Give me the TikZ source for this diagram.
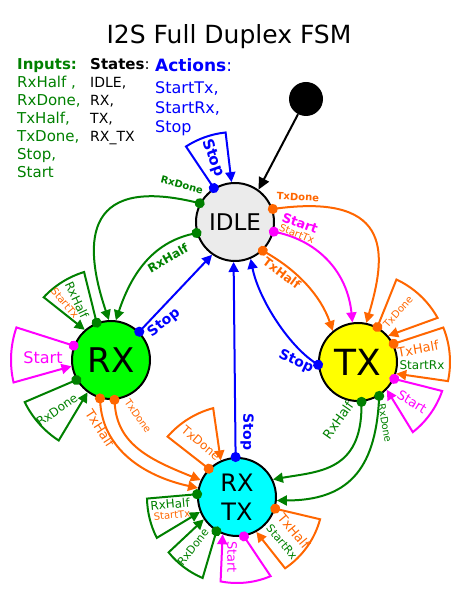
\documentclass[tikz,border=0pt]{standalone}
\usepackage{fontspec}
\setmainfont{DejaVu Sans}
\usetikzlibrary{arrows.meta}

\definecolor{ingreen}{RGB}{0,128,0}
\definecolor{txorange}{RGB}{255,102,0}
\definecolor{startpink}{RGB}{255,0,255}
\definecolor{stopblue}{RGB}{0,0,255}
\definecolor{idlegray}{RGB}{235,235,235}
\definecolor{rxgreen}{RGB}{0,255,0}
\definecolor{txyellow}{RGB}{255,255,0}
\definecolor{rxtxcyan}{RGB}{0,255,255}

\newcommand{\fsz}[1]{\fontsize{#1}{#1}\selectfont}

\tikzset{
  state/.style={circle, draw=black, line width=2pt, minimum size=78pt, inner sep=0pt},
  trans/.style={line width=2pt, {Circle[length=10pt]}-{Triangle[length=10pt,width=10pt]}, shorten <=-5pt},
  lbl/.style={inner sep=0pt},
}

\begin{document}
\begin{tikzpicture}[x=1pt,y=1pt]
\useasboundingbox (0,0) rectangle (473,598);
% title and legend
\node (title) at (229,561) {\fsz{25}I2S Full Duplex FSM};
\node[anchor=north west, align=left, inner sep=0pt, text=ingreen, font=\fontsize{15}{18}\selectfont] (inputs) at (17,540) {\textbf{Inputs:}\\RxHalf ,\\RxDone,\\TxHalf,\\TxDone,\\Stop,\\Start};
\node[anchor=north west, align=left, inner sep=0pt, font=\fontsize{14}{18}\selectfont] (states) at (90,540) {{\fsz{15}\textbf{States}:}\\IDLE,\\RX,\\TX,\\RX\_TX};
\node[anchor=north west, align=left, inner sep=0pt, text=stopblue, font=\fontsize{16}{19.5}\selectfont] (actions) at (155,540) {{\fsz{17}\textbf{Actions}:}\\[3pt]StartTx,\\StartRx,\\Stop};
%
% states
\node[state, fill=idlegray] (idle) at (235,376) {\fsz{23}IDLE};
\node[state, fill=rxgreen] (rx) at (111,238) {\fsz{34}RX};
\node[state, fill=txyellow] (tx) at (358,236) {\fsz{36}TX};
\node[state, fill=rxtxcyan, align=center, font=\fontsize{24}{29}\selectfont] (rxtx) at (237,101) {RX\\TX};
\node[circle, fill=black, minimum size=34pt, inner sep=0pt] (init) at (306,499) {};
%
\draw[line width=2pt, -{Triangle[length=12pt,width=11pt]}] (init) -- (idle.54);
%
% transitions between states
\draw[trans, ingreen] (idle.152) .. controls +(-121,29) and +(-24,71) .. (rx.93);
\draw[trans, ingreen] (idle.196) .. controls +(-45,-10) and +(15,45) .. (rx.83);
\draw[trans, stopblue] (rx.45) -- (idle.235);
\draw[trans, stopblue] (rxtx.92) -- (idle.268);
\draw[trans, stopblue] (tx.184) .. controls +(-30,20) and +(8,-40) .. (idle.293);
\draw[trans, txorange] (idle.19) .. controls +(123,16) and +(19,65) .. (tx.78);
\draw[trans, startpink] (idle.346) .. controls +(45,-10) and +(-5,50) .. (tx.98);
\draw[trans, txorange] (idle.314) .. controls +(35,-20) and +(-12,35) .. (tx.129);
\draw[trans, ingreen] (tx.275) .. controls +(0,-70) and +(45,8) .. (rxtx.26);
\draw[trans, ingreen] (tx.302) .. controls +(-4,-75) and +(70,0) .. (rxtx.355);
\draw[trans, txorange] (rx.254) .. controls +(3,-50) and +(-55,12) .. (rxtx.167);
\draw[trans, txorange] (rx.275) .. controls +(3,-45) and +(-50,20) .. (rxtx.155);
%
% self loops
\draw[trans, stopblue] (idle.122) -- ([shift={(123:90)}]idle.center) arc[start angle=123, end angle=96, radius=90] -- (idle.95);
\draw[trans, txorange] (tx.61) -- ([shift={(65:91)}]tx.center) arc[start angle=65, end angle=29, radius=91] -- (tx.41);
\draw[trans, txorange] (tx.27) -- ([shift={(22:92)}]tx.center) arc[start angle=22, end angle=-12, radius=92] -- (tx.343);
\draw[trans, startpink] (tx.335) -- ([shift={(341:89)}]tx.center) arc[start angle=341, end angle=308, radius=89] -- (tx.316);
\draw[trans, ingreen] (rx.111) -- ([shift={(107:92)}]rx.center) arc[start angle=107, end angle=137, radius=92] -- (rx.131);
\draw[trans, startpink] (rx.159) -- ([shift={(161:100)}]rx.center) arc[start angle=161, end angle=193, radius=100] -- (rx.189);
\draw[trans, ingreen] (rx.210) -- ([shift={(206:96)}]rx.center) arc[start angle=206, end angle=237, radius=96] -- (rx.234);
\draw[trans, txorange] (rxtx.135) -- ([shift={(139:92)}]rxtx.center) arc[start angle=139, end angle=105, radius=92] -- (rxtx.114);
\draw[trans, ingreen] (rxtx.176) -- ([shift={(181:90)}]rxtx.center) arc[start angle=181, end angle=207, radius=90] -- (rxtx.202);
\draw[trans, ingreen] (rxtx.239) -- ([shift={(247:88)}]rxtx.center) arc[start angle=247, end angle=219, radius=88] -- (rxtx.214);
\draw[trans, startpink] (rxtx.280) -- ([shift={(293:86)}]rxtx.center) arc[start angle=293, end angle=259, radius=86] -- (rxtx.249);
\draw[trans, txorange] (rxtx.343) -- ([shift={(345:86)}]rxtx.center) arc[start angle=345, end angle=304, radius=86] -- (rxtx.299);
%
% transition labels
\node[lbl, text=ingreen, rotate=-15] (lIdleRxDone) at (182,413) {\fsz{10}\textbf{RxDone}};
\node[lbl, text=ingreen, rotate=30] (lIdleRxHalf) at (168,340) {\fsz{12}\textbf{RxHalf}};
\node[lbl, text=stopblue, rotate=38] (lRxStop) at (164,275) {\fsz{14}\textbf{Stop}};
\node[lbl, text=stopblue, rotate=-90] (lRxTxStop) at (247,166) {\fsz{14}\textbf{Stop}};
\node[lbl, text=stopblue, rotate=-25] (lTxStop) at (296,236) {\fsz{14}\textbf{Stop}};
\node[lbl, text=txorange, rotate=-3] (lIdleTxDone) at (298,401) {\fsz{10}\textbf{TxDone}};
\node[lbl, text=startpink, rotate=-20] (lIdleStart) at (300,375) {\fsz{13}\textbf{Start}};
\node[lbl, text=txorange, rotate=-22] (lIdleStartTx) at (297,364) {\fsz{10}StartTx};
\node[lbl, text=txorange, rotate=-37] (lIdleTxHalf) at (282,325) {\fsz{12}\textbf{TxHalf}};
\node[lbl, text=ingreen, rotate=55] (lTxRxHalf) at (338,178) {\fsz{13}RxHalf};
\node[lbl, text=ingreen, rotate=-80] (lTxRxDone) at (385,175) {\fsz{10}RxDone};
\node[lbl, text=txorange, rotate=-57] (lRxTxHalf) at (100,170) {\fsz{13}TxHalf};
\node[lbl, text=txorange, rotate=-55] (lRxTxDone) at (138,182) {\fsz{10}TxDone};
%
% self loop labels
\node[lbl, text=stopblue, rotate=-70] (sIdleStop) at (213,440) {\fsz{15}\textbf{Stop}};
\node[lbl, text=txorange, rotate=48] (sTxTxDone) at (398,286) {\fsz{10}TxDone};
\node[lbl, text=txorange, rotate=10] (sTxTxHalf) at (418,249) {\fsz{13}TxHalf};
\node[lbl, text=ingreen] (sTxStartRx) at (422,233) {\fsz{12}StartRx};
\node[lbl, text=startpink, rotate=-32] (sTxStart) at (412,196) {\fsz{13}Start};
\node[lbl, text=ingreen, rotate=-65] (sRxRxHalf) at (77,298) {\fsz{12}RxHalf};
\node[lbl, text=txorange, rotate=-50] (sRxStartTx) at (65,295) {\fsz{10}StartTx};
\node[lbl, text=startpink] (sRxStart) at (43,240) {\fsz{16}Start};
\node[lbl, text=ingreen, rotate=35] (sRxRxDone) at (57,188) {\fsz{12}RxDone};
\node[lbl, text=txorange, rotate=-40] (sRxTxTxDone) at (201,155) {\fsz{12}TxDone};
\node[lbl, text=ingreen, rotate=5] (sRxTxRxHalf) at (170,94) {\fsz{12}RxHalf};
\node[lbl, text=txorange, rotate=5] (sRxTxStartTx) at (172,83) {\fsz{10}StartTx};
\node[lbl, text=ingreen, rotate=52] (sRxTxRxDone) at (193,51) {\fsz{11}RxDone};
\node[lbl, text=startpink, rotate=-90] (sRxTxStart) at (232,41) {\fsz{13}Start};
\node[lbl, text=txorange, rotate=-50] (sRxTxTxHalf) at (294,67) {\fsz{13}TxHalf};
\node[lbl, text=ingreen, rotate=-50] (sRxTxStartRx) at (282,56) {\fsz{11}StartRx};
\end{tikzpicture}
\end{document}
